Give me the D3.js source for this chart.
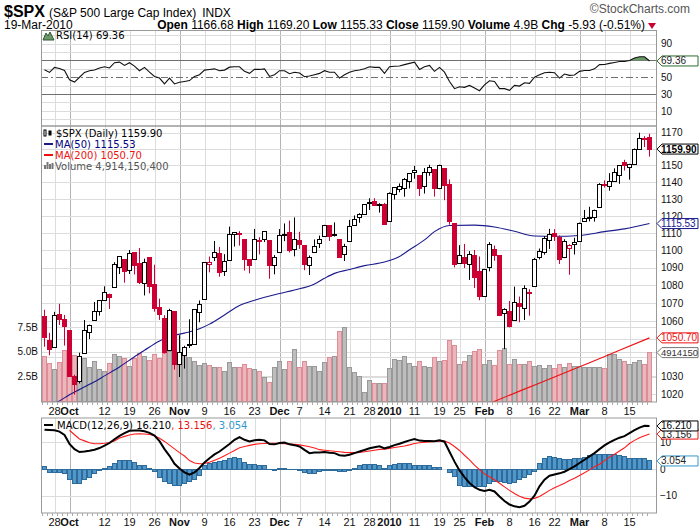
<!DOCTYPE html>
<html>
<head>
<meta charset="utf-8">
<title>$SPX daily</title>
<script src="https://cdn.jsdelivr.net/npm/d3@7"></script>
<style>
body { margin: 0; background: #fff; }
svg { display: block; font-family: "Liberation Sans", Arial, sans-serif; }
.legend { font-family: "DejaVu Sans", Verdana, sans-serif; font-size: 10px; }
</style>
</head>
<body>
<div id="chart"></div>
<script>

// trading days shown on the chart
var dates = [
"2009-09-24","2009-09-25","2009-09-28","2009-09-29","2009-09-30",
"2009-10-01","2009-10-02","2009-10-05","2009-10-06","2009-10-07","2009-10-08","2009-10-09","2009-10-12","2009-10-13","2009-10-14","2009-10-15","2009-10-16",
"2009-10-19","2009-10-20","2009-10-21","2009-10-22","2009-10-23","2009-10-26","2009-10-27","2009-10-28","2009-10-29","2009-10-30",
"2009-11-02","2009-11-03","2009-11-04","2009-11-05","2009-11-06","2009-11-09","2009-11-10","2009-11-11","2009-11-12","2009-11-13",
"2009-11-16","2009-11-17","2009-11-18","2009-11-19","2009-11-20","2009-11-23","2009-11-24","2009-11-25","2009-11-27","2009-11-30",
"2009-12-01","2009-12-02","2009-12-03","2009-12-04","2009-12-07","2009-12-08","2009-12-09","2009-12-10","2009-12-11",
"2009-12-14","2009-12-15","2009-12-16","2009-12-17","2009-12-18","2009-12-21","2009-12-22","2009-12-23","2009-12-24","2009-12-28","2009-12-29","2009-12-30","2009-12-31",
"2010-01-04","2010-01-05","2010-01-06","2010-01-07","2010-01-08","2010-01-11","2010-01-12","2010-01-13","2010-01-14","2010-01-15",
"2010-01-19","2010-01-20","2010-01-21","2010-01-22","2010-01-25","2010-01-26","2010-01-27","2010-01-28","2010-01-29",
"2010-02-01","2010-02-02","2010-02-03","2010-02-04","2010-02-05","2010-02-08","2010-02-09","2010-02-10","2010-02-11","2010-02-12",
"2010-02-16","2010-02-17","2010-02-18","2010-02-19","2010-02-22","2010-02-23","2010-02-24","2010-02-25","2010-02-26",
"2010-03-01","2010-03-02","2010-03-03","2010-03-04","2010-03-05","2010-03-08","2010-03-09","2010-03-10","2010-03-11","2010-03-12",
"2010-03-15","2010-03-16","2010-03-17","2010-03-18","2010-03-19"
];

var priorClose = 1060.87;

var opens = [
1062.56,1049.48,1045.38,1063.69,1061.02,1054.91,1029.71,1026.87,1042.02,1053.65,
1060.03,1065.28,1071.63,1074.96,1078.68,1090.36,1094.67,1088.22,1098.64,1092.44,
1080.96,1095.62,1080.36,1067.54,1061.51,1043.69,1065.41,1036.18,1040.92,1047.30,
1047.30,1064.95,1072.31,1091.86,1096.04,1098.31,1087.59,1094.13,1109.22,1109.44,
1106.44,1094.66,1094.86,1105.83,1106.49,1105.47,1091.07,1098.89,1109.03,1110.59,
1100.43,1105.52,1103.04,1091.07,1098.69,1103.96,1107.84,1114.11,1108.61,1106.36,
1097.86,1105.31,1114.51,1118.84,1121.08,1127.53,1128.55,1126.80,1126.60,1116.56,
1132.66,1135.71,1136.27,1140.52,1145.96,1143.81,1137.31,1145.68,1147.72,1136.03,
1147.95,1138.68,1115.49,1092.40,1095.80,1091.94,1096.93,1087.61,1073.89,1090.05,
1100.67,1097.25,1064.12,1065.51,1060.06,1069.68,1067.10,1075.95,1079.13,1096.14,
1099.03,1105.49,1110.00,1107.49,1095.89,1101.24,1103.10,1105.36,1117.01,1119.36,
1119.12,1125.12,1138.40,1137.56,1140.22,1143.96,1151.71,1148.53,1150.83,1159.94,
1166.13,1166.68
];

var highs = [
1066.29,1053.47,1065.13,1069.62,1063.40,1054.91,1030.60,1042.58,1060.55,1058.02,
1070.67,1071.51,1079.46,1075.30,1093.17,1096.56,1094.67,1100.17,1098.64,1101.36,
1095.21,1095.83,1091.75,1072.48,1063.26,1066.83,1065.41,1052.18,1046.36,1061.00,
1066.65,1071.48,1093.19,1096.42,1105.37,1101.97,1097.79,1113.69,1110.52,1111.10,
1106.44,1094.66,1112.38,1107.56,1111.18,1105.47,1097.24,1112.28,1115.58,1117.28,
1119.13,1110.72,1103.04,1097.04,1106.25,1108.50,1114.76,1114.11,1116.21,1106.36,
1103.74,1117.68,1120.27,1121.58,1126.48,1130.38,1130.38,1127.50,1127.64,1133.87,
1136.63,1139.19,1142.46,1145.39,1149.74,1143.81,1148.40,1150.41,1147.77,1150.45,
1147.95,1141.58,1115.49,1102.97,1103.69,1099.51,1100.22,1096.45,1089.38,1104.73,
1102.72,1097.25,1067.13,1071.20,1079.28,1073.67,1080.04,1077.81,1095.67,1101.03,
1108.24,1112.42,1112.29,1108.58,1106.42,1103.50,1107.24,1116.11,1123.46,1125.36,
1123.73,1139.38,1141.05,1145.37,1148.26,1150.24,1153.41,1150.98,1160.28,1169.84,
1167.77,1169.20
];

var lows = [
1045.85,1041.17,1045.38,1057.83,1046.47,1029.45,1019.95,1025.92,1042.02,1050.10,
1060.03,1063.00,1071.63,1066.71,1078.68,1086.41,1081.53,1086.48,1086.16,1080.77,
1074.31,1075.49,1065.23,1060.62,1042.19,1043.69,1033.38,1029.38,1033.94,1045.15,
1047.30,1059.32,1072.31,1087.40,1093.81,1084.90,1085.33,1094.13,1102.19,1102.70,
1088.40,1086.81,1094.86,1097.63,1104.75,1083.74,1086.25,1098.89,1105.29,1098.74,
1096.52,1100.83,1088.61,1085.89,1098.69,1101.34,1107.84,1105.35,1107.96,1095.88,
1093.88,1105.31,1114.51,1116.00,1121.08,1123.51,1126.08,1121.94,1114.81,1116.56,
1129.66,1133.95,1131.32,1136.22,1142.02,1131.77,1133.18,1143.80,1131.39,1135.77,
1129.25,1114.84,1090.18,1092.40,1089.86,1083.11,1078.46,1071.59,1073.89,1087.96,
1093.97,1062.78,1044.50,1056.51,1060.06,1059.34,1060.59,1062.97,1079.13,1094.72,
1097.48,1100.80,1105.38,1092.18,1095.50,1086.02,1097.56,1105.36,1116.51,1116.81,
1116.66,1125.12,1136.77,1134.90,1140.09,1138.99,1146.97,1141.45,1150.35,1159.94,
1161.16,1155.33
];

var closes = [
1050.78,1044.38,1062.98,1060.61,1057.08,1029.85,1025.21,1040.46,1054.72,1057.58,
1065.48,1071.49,1076.19,1073.19,1092.02,1096.56,1087.68,1097.91,1091.06,1081.40,
1092.91,1079.60,1066.95,1063.41,1042.63,1066.11,1036.19,1042.88,1045.41,1046.50,
1066.63,1069.30,1093.08,1093.01,1098.51,1087.24,1093.48,1109.30,1110.32,1109.80,
1094.90,1091.38,1106.24,1105.65,1110.63,1091.49,1095.63,1108.86,1109.24,1099.92,
1105.98,1103.25,1091.94,1095.95,1102.35,1106.41,1114.11,1107.93,1109.18,1096.08,
1102.47,1114.05,1118.02,1120.59,1126.48,1127.78,1126.20,1126.42,1115.10,1132.99,
1136.52,1137.14,1141.69,1144.98,1146.98,1136.22,1145.68,1148.46,1136.03,1150.23,
1138.04,1116.48,1091.76,1096.78,1092.17,1097.50,1084.53,1073.87,1089.19,1103.32,
1097.28,1063.11,1066.19,1056.74,1070.52,1068.13,1078.47,1075.51,1094.87,1099.51,
1106.75,1109.17,1108.01,1094.60,1105.24,1102.94,1104.49,1115.71,1118.31,1118.79,
1122.97,1138.70,1138.50,1140.45,1145.61,1150.24,1149.99,1150.51,1159.46,1166.21,
1165.83,1159.90
];

// volume in billions of shares
var volumes = [
4.5,3.8,3.2,3.9,5.1,5.5,4.6,4.4,4.3,3.4,
4.0,3.2,3.0,3.8,4.7,4.5,4.3,3.5,4.3,4.8,
4.5,4.1,4.7,4.3,4.8,5.0,5.1,4.8,4.8,4.4,
4.0,3.6,3.8,3.6,3.4,3.4,3.0,3.9,3.4,3.4,
3.7,3.3,3.2,3.0,2.4,1.9,3.4,4.0,3.2,4.0,
5.2,3.4,4.0,3.5,3.5,3.0,3.9,4.4,4.5,7.05,
7.45,3.44,2.93,2.53,0.93,2.13,1.83,1.83,1.83,3.27,
4.2,4.1,4.55,3.77,3.54,4.04,3.54,3.44,4.44,4.0,
4.1,6.15,5.6,3.7,4.0,4.67,5.04,5.24,3.67,4.14,
3.6,5.14,5.34,3.67,4.2,3.7,3.7,4.04,3.54,3.6,
3.27,3.6,3.34,3.67,3.44,3.84,3.54,3.54,3.37,3.37,
3.44,3.44,3.27,4.77,4.77,4.2,4.0,3.67,3.87,4.1,
3.67,4.914
];

var rsi = [
59,55.8,61.7,60.5,58,47,44.3,50,55.8,57.8,
58.6,61,62.5,61,67.3,68,64,67.3,63.3,57.8,
61.7,56,51,49,42,49,42,44,45,46,
51,53,58.5,59.3,60,57.8,58.5,62,62.5,62.5,
57,54.6,59.3,59.3,60,51,53,57.8,57.8,54.2,
56,55,50.6,51.4,53,54.6,57.8,56,56,49,
53,56,57.8,58.6,60,62.5,61.7,61.7,54.6,62.5,
63,63.3,65,66.5,68,59.3,62.5,64,57,61.7,
56,45,36.4,38.7,38,40.3,37.2,34,41,45.8,
45,36.4,36.4,34.4,40.3,39.5,43.5,42.7,50,53,
55.4,56,55.4,49,53.8,52.2,52.6,57,58,58,
60,65,65.2,66.5,67.6,68.8,68.8,70,72.8,74.4,
74.4,69.36
];

var macd = [
14.8,14.7,14.6,14.1,12.8,9.5,7.5,6.4,6.6,6.9,
7.3,7.9,8.8,9.8,11.2,12.5,13.5,14.4,14.5,14.5,
14.2,13.6,12.6,10.5,7.5,5.0,2.0,0.2,-1.2,-2.1,
-1.2,0.4,2.5,4.1,5.5,6.6,8.0,9.4,11.0,12.0,
11.0,10.4,10.8,11.0,10.8,9.4,9.3,9.8,10.0,9.3,
9.0,8.5,7.2,6.0,6.2,6.2,6.4,6.1,6.0,5.2,
5.0,5.4,6.0,6.6,7.2,7.8,8.2,8.6,7.8,8.3,
9.0,9.5,10.2,10.8,11.3,10.7,10.6,10.6,10.5,10.8,
10.3,6.5,2.8,-0.5,-3.0,-5.2,-6.8,-7.8,-8.2,-7.8,
-8.4,-10.3,-12.0,-13.3,-14.0,-14.3,-13.8,-12.2,-10.0,-6.5,
-4.0,-2.5,-2.0,-1.6,-1.0,0.0,1.0,2.3,3.5,4.8,
6.0,7.5,8.9,10.0,11.0,11.8,12.4,13.5,14.6,15.6,
16.3,16.21
];

var signal = [
null,null,null,null,null,14.6,12.9,11.3,10.6,9.9,
9.5,9.5,9.7,10.0,10.6,11.7,12.3,12.8,13.2,13.3,
13.2,13.0,12.5,11.6,10.4,9.0,7.6,6.2,4.9,3.2,
2.3,2.0,2.1,2.6,3.3,4.1,5.0,6.0,7.0,8.0,
8.5,8.9,9.3,9.5,9.6,9.7,9.7,9.6,9.5,9.4,
9.3,9.1,8.8,8.4,7.9,7.3,7.1,6.9,6.7,6.5,
6.3,6.2,6.2,6.3,6.5,6.8,7.1,7.4,7.5,7.8,
8.1,8.4,8.7,9.1,9.6,9.9,10.1,10.2,10.4,10.5,
10.5,9.8,8.5,7.0,5.2,3.5,1.5,-0.2,-1.8,-2.9,
-4.0,-5.3,-6.7,-8.0,-9.2,-10.2,-10.9,-11.2,-11.0,-10.3,
-9.2,-8.0,-7.0,-6.2,-5.3,-4.3,-3.4,-2.4,-1.4,-0.3,
0.9,1.8,3.2,4.5,5.6,6.8,8.0,9.6,10.8,11.8,
12.5,13.156
];

var hist = [
0.8,-1.3,-1.3,-1.3,-1.8,-4.0,-5.3,-5.3,-4.0,-3.0,
-1.8,-0.6,0.4,1.0,2.2,3.1,3.1,3.1,2.5,1.2,
1.2,0.4,-0.9,-3.0,-4.6,-5.3,-6.3,-6.0,-5.6,-4.6,
-4.0,-2.5,1.2,2.2,2.6,2.7,3.4,4.1,4.4,3.9,
2.6,1.8,1.8,1.5,1.3,-0.1,-0.6,0.1,0.2,-0.2,
-0.3,-0.5,-1.4,-1.8,-1.5,-1.0,-0.7,-0.6,-0.6,-0.9,
-0.9,-0.4,0.2,1.2,1.6,1.8,1.8,1.2,0.3,1.4,
1.6,2.0,2.1,2.1,1.4,1.4,1.4,1.4,0.5,0.5,
0.0,-1.2,-2.7,-6.2,-6.4,-6.4,-6.6,-6.6,-6.7,-5.4,
-4.5,-4.5,-4.9,-5.4,-5.2,-4.0,-3.0,-2.1,-0.9,2.2,
4.1,4.7,4.5,4.1,3.7,3.7,4.1,4.1,4.5,5.1,
5.5,5.5,5.5,5.5,5.5,5.1,4.7,4.1,4.1,4.1,
4.1,3.054
];

// moving averages at selected days
var ma50Dates = ["2009-09-24","2009-09-29","2009-10-01","2009-10-05","2009-10-08","2009-10-12","2009-10-15","2009-10-20","2009-10-22","2009-10-27",
"2009-10-29","2009-11-03","2009-11-06","2009-11-10","2009-11-13","2009-11-18","2009-11-23","2009-12-01","2009-12-04","2009-12-10",
"2009-12-14","2009-12-16","2009-12-21","2009-12-24","2009-12-31","2010-01-06","2010-01-08","2010-01-13","2010-01-15","2010-01-21",
"2010-01-28","2010-02-03","2010-02-09","2010-02-16","2010-02-22","2010-03-01","2010-03-08","2010-03-12","2010-03-19"];
var ma50Values = [1013.0,1016.6,1019.9,1022.7,1026.8,1030.0,1034.8,1040.4,1043.9,1049.0,
1051.5,1053.3,1055.7,1058.3,1063.4,1068.6,1071.6,1075.4,1077.4,1080.8,
1084.0,1086.8,1089.0,1091.2,1093.3,1096.4,1100.3,1106.0,1110.8,1114.4,
1114.6,1113.5,1111.0,1108.3,1108.1,1108.6,1110.8,1112.4,1115.53];

var ma200Dates = ["2010-02-01","2010-02-10","2010-02-22","2010-03-03","2010-03-11","2010-03-19"];
var ma200Values = [1014.2,1021.8,1029.4,1037.1,1043.9,1050.70];

// axis labels
var tickDates = ["2009-09-28","2009-10-01","2009-10-12","2009-10-19","2009-10-26","2009-11-02","2009-11-09","2009-11-16","2009-11-23",
"2009-12-01","2009-12-07","2009-12-14","2009-12-21","2009-12-28","2010-01-04","2010-01-11","2010-01-19","2010-01-25",
"2010-02-01","2010-02-08","2010-02-16","2010-02-22","2010-03-01","2010-03-08","2010-03-15"];
var tickLabels = ["28","Oct","12","19","26","Nov","9","16","23","Dec","7","14","21","28","2010","11","19","25","Feb","8","16","22","Mar","8","15"];
var priceTicks = d3.range(1020, 1171, 10);
var volTicks = [2.5, 5.0, 7.5];
var rsiLabels = [90, 50, 30, 10];
var macdTicks = [-10, 0, 10];

var W = 700, H = 530;
var L = 41, R = 656;
var rsiTop = 30.5, rsiBot = 126, mainTop = 126, mainBot = 402, macdTop = 418, macdBot = 513;
var red = "#cc0033", navy = "#1a1a8c", macdBlue = "#4f98c9";

var svg = d3.select("#chart").append("svg").attr("width", W).attr("height", H);

var x = d3.scaleBand().domain(dates).range([42, 652]).padding(0);
function cx(d) { return x(d) + x.bandwidth() / 2; }

var yPrice = d3.scaleLog().domain([1016, 1174]).range([mainBot, mainTop]);
var yVol = d3.scaleLinear().domain([0, 10]).range([401.5, 302]);
var yRsi = d3.scaleLinear().domain([-8, 105.6]).range([rsiBot, rsiTop]);
var yMacd = d3.scaleLinear().domain([-16.5, 19.2]).range([macdBot, macdTop]);

var bars = dates.map(function (d, i) {
	var prev = i == 0 ? priorClose : closes[i - 1];
	return { date: d, o: opens[i], h: highs[i], l: lows[i], c: closes[i], v: volumes[i],
		up: closes[i] >= prev, rsi: rsi[i], macd: macd[i], sig: signal[i], hist: hist[i] };
});
var last = bars[bars.length - 1];

function isMonth(lbl) { return isNaN(+lbl) || lbl.length == 4; }

// ---- panel grids
function vGrid(top, bot) {
	svg.append("g").selectAll("line").data(tickDates).enter().append("line")
	.attr("x1", function (d) { return Math.round(cx(d)) + 0.5; })
	.attr("x2", function (d) { return Math.round(cx(d)) + 0.5; })
	.attr("y1", top).attr("y2", bot)
	.attr("stroke", function (d, i) { return isMonth(tickLabels[i]) ? "#b4b4b4" : "#dcdcdc"; });
}
function hGrid(vals, scale, color) {
	svg.append("g").selectAll("line").data(vals).enter().append("line")
	.attr("x1", L).attr("x2", R)
	.attr("y1", function (d) { return Math.round(scale(d)) + 0.5; })
	.attr("y2", function (d) { return Math.round(scale(d)) + 0.5; })
	.attr("stroke", color || "#dcdcdc");
}

vGrid(rsiTop, rsiBot);
vGrid(mainTop, mainBot);
vGrid(macdTop, macdBot);

hGrid([0, 10, 20, 40, 60, 80, 90, 100], yRsi);
hGrid(priceTicks, yPrice);
hGrid(volTicks, yVol);
hGrid(macdTicks, yMacd);

// RSI reference lines
hGrid([30, 70], yRsi, "#707070");
svg.append("line").attr("x1", L).attr("x2", R)
.attr("y1", Math.round(yRsi(50)) + 0.5).attr("y2", Math.round(yRsi(50)) + 0.5)
.attr("stroke", "#707070").attr("stroke-dasharray", "7,3,2,3");

// ---- RSI
var rsiArea = d3.area()
.x(function (d) { return cx(d.date); })
.y0(yRsi(70))
.y1(function (d) { return yRsi(Math.max(d.rsi, 70)); });
svg.append("path").datum(bars).attr("d", rsiArea).attr("fill", "#6a986a");

var rsiLine = d3.line().x(function (d) { return cx(d.date); }).y(function (d) { return yRsi(d.rsi); });
svg.append("path").datum(bars).attr("d", rsiLine).attr("fill", "none").attr("stroke", "#111").attr("stroke-width", 1.1);

// ---- main panel: volume
svg.append("defs").append("clipPath").attr("id", "mainClip")
.append("rect").attr("x", L).attr("y", mainTop).attr("width", R - L).attr("height", mainBot - mainTop);

svg.append("g").selectAll("rect").data(bars).enter().append("rect")
.attr("x", function (d) { return x(d.date) + 0.5; })
.attr("width", x.bandwidth() - 1)
.attr("y", function (d) { return yVol(d.v); })
.attr("height", function (d) { return yVol(0) - yVol(d.v); })
.attr("fill", function (d) { return d.up ? "#bdbdbd" : "#e9b7bc"; })
.attr("stroke", function (d) { return d.up ? "#999" : "#e08c96"; })
.attr("shape-rendering", "crispEdges");

// moving averages
var maLine = d3.line().curve(d3.curveMonotoneX)
.x(function (d) { return cx(d[0]); }).y(function (d) { return yPrice(d[1]); });
svg.append("path").datum(d3.zip(ma50Dates, ma50Values)).attr("d", maLine)
.attr("clip-path", "url(#mainClip)").attr("fill", "none").attr("stroke", navy).attr("stroke-width", 1.1);
svg.append("path").datum(d3.zip(ma200Dates, ma200Values)).attr("d", maLine)
.attr("clip-path", "url(#mainClip)").attr("fill", "none").attr("stroke", "#ee1111").attr("stroke-width", 1.1);

// candles
var candles = svg.append("g").attr("clip-path", "url(#mainClip)").selectAll("g").data(bars).enter().append("g");
candles.append("line")
.attr("x1", function (d) { return cx(d.date); }).attr("x2", function (d) { return cx(d.date); })
.attr("y1", function (d) { return yPrice(d.h); }).attr("y2", function (d) { return yPrice(d.l); })
.attr("stroke", function (d) { return d.up ? "#000" : red; });
candles.append("rect")
.attr("x", function (d) { return cx(d.date) - 2; })
.attr("width", 4)
.attr("y", function (d) { return yPrice(Math.max(d.o, d.c)); })
.attr("height", function (d) { return Math.max(1, yPrice(Math.min(d.o, d.c)) - yPrice(Math.max(d.o, d.c))); })
.attr("fill", function (d) { return d.c >= d.o ? "#fff" : (d.up ? "#000" : red); })
.attr("stroke", function (d) { return d.up ? "#000" : red; })
.attr("shape-rendering", "crispEdges");

// ---- MACD panel
svg.append("g").selectAll("rect").data(bars).enter().append("rect")
.attr("x", function (d) { return x(d.date) + 0.5; })
.attr("width", x.bandwidth() - 1)
.attr("y", function (d) { return yMacd(Math.max(0, d.hist)); })
.attr("height", function (d) { return Math.abs(yMacd(d.hist) - yMacd(0)); })
.attr("fill", macdBlue).attr("stroke", "#2f6b9a")
.attr("shape-rendering", "crispEdges");

var sigLine = d3.line().defined(function (d) { return d.sig != null; })
.x(function (d) { return cx(d.date); }).y(function (d) { return yMacd(d.sig); });
svg.append("path").datum(bars).attr("d", sigLine).attr("fill", "none").attr("stroke", "#ff1a1a").attr("stroke-width", 1.1);
var macdLine = d3.line().x(function (d) { return cx(d.date); }).y(function (d) { return yMacd(d.macd); });
svg.append("path").datum(bars).attr("d", macdLine).attr("fill", "none").attr("stroke", "#000").attr("stroke-width", 2);

// ---- panel borders and small day ticks
[[rsiTop, rsiBot], [mainTop, mainBot], [macdTop, macdBot]].forEach(function (p) {
	svg.append("rect").attr("x", L + 0.5).attr("y", p[0]).attr("width", R - L).attr("height", p[1] - p[0])
	.attr("fill", "none").attr("stroke", "#999");
});
[mainBot, macdBot].forEach(function (yb) {
	svg.append("g").selectAll("line").data(dates).enter().append("line")
	.attr("x1", function (d) { return x(d) + 0.5; }).attr("x2", function (d) { return x(d) + 0.5; })
	.attr("y1", yb).attr("y2", yb + 3).attr("stroke", "#aaa");
});

// ---- axes (price labels that sit under a value tag are left out, as on the original)
var priceTags = [last.c, ma50Values[ma50Values.length - 1], ma200Values[ma200Values.length - 1]];
var volTagY = yVol(last.v);
var shownPriceTicks = priceTicks.filter(function (p) {
	var yp = yPrice(p);
	var hidden = priceTags.some(function (t) { return Math.abs(yPrice(t) - yp) < 7; });
	return !hidden && Math.abs(volTagY - yp) >= 7;
});

function styleAxis(g, size) {
	g.select(".domain").remove();
	g.attr("font-family", "Liberation Sans, Arial, sans-serif").attr("font-size", size || 10);
	g.selectAll("text").attr("fill", "#111");
}
svg.append("g").attr("transform", "translate(" + R + ",0)")
.call(d3.axisRight(yPrice).tickValues(shownPriceTicks).tickFormat(d3.format("d")).tickSize(0).tickPadding(5))
.call(styleAxis);
svg.append("g").attr("transform", "translate(" + R + ",0)")
.call(d3.axisRight(yRsi).tickValues(rsiLabels).tickSize(0).tickPadding(5))
.call(styleAxis);
svg.append("g").attr("transform", "translate(" + R + ",0)")
.call(d3.axisRight(yMacd).tickValues(macdTicks).tickSize(0).tickPadding(4))
.call(styleAxis);
svg.append("g").attr("transform", "translate(" + (L - 2) + ",0)")
.call(d3.axisLeft(yVol).tickValues(volTicks).tickFormat(function (d) { return d.toFixed(1) + "B"; }).tickSize(0).tickPadding(1))
.call(styleAxis);

[mainBot + 1, macdBot + 1].forEach(function (yb) {
	var g = svg.append("g").attr("transform", "translate(0," + yb + ")")
	.call(d3.axisBottom(x).tickValues(tickDates).tickFormat(function (d, i) { return tickLabels[i]; }).tickSize(0).tickPadding(4))
	.call(styleAxis, 11);
	g.selectAll("text").attr("font-weight", function (d, i) { return isMonth(tickLabels[i]) ? "bold" : "normal"; });
});

// ---- value tags on the right
function tag(y, text, color, textColor, bold, size) {
	var g = svg.append("g");
	g.append("path")
	.attr("d", "M" + (R + 1) + "," + y + " L" + (R + 6) + "," + (y - 5) + " L698," + (y - 5) + " L698," + (y + 5) + " L" + (R + 6) + "," + (y + 5) + " Z")
	.attr("fill", "#fff").attr("stroke", color);
	g.append("text").attr("x", R + 5).attr("y", y + 3.5).text(text)
	.attr("font-size", size || 10).attr("fill", textColor || color).attr("font-weight", bold ? "bold" : "normal");
}
tag(yRsi(last.rsi), "69.36", "#2d6e2d", "#222");
tag(yPrice(last.c), "1159.90", "#000", "#000", true);
tag(yPrice(ma50Values[ma50Values.length - 1]), "1115.53", navy);
tag(yPrice(ma200Values[ma200Values.length - 1]), "1050.70", "#ee1111");
tag(volTagY, "4914150", "#777", "#333", false, 9.5);
tag(yMacd(last.hist), "3.054", "#3399cc", "#222");
tag(yMacd(last.sig), "13.156", "#ee1111", "#222");
tag(yMacd(last.macd), "16.210", "#000", "#000");

// ---- legends inside panels
var rsiLeg = svg.append("g").attr("class", "legend");
rsiLeg.append("path").attr("d", "M43,40 L46,33 L48,36 L50,32 L54,40 Z").attr("fill", "#6a986a").attr("stroke", "#335533");
rsiLeg.append("text").attr("x", 56).attr("y", 39).text("RSI(14) 69.36");

var mainLeg = svg.append("g").attr("class", "legend");
mainLeg.append("rect").attr("x", 44).attr("y", 130).attr("width", 2).attr("height", 6).attr("fill", "#fff").attr("stroke", "#000");
mainLeg.append("rect").attr("x", 49).attr("y", 131).attr("width", 2).attr("height", 4).attr("fill", "#000").attr("stroke", "#000");
mainLeg.append("text").attr("x", 56).attr("y", 137).text("$SPX (Daily) 1159.90").attr("fill", "#000");
mainLeg.append("rect").attr("x", 44).attr("y", 143).attr("width", 9).attr("height", 2).attr("fill", navy);
mainLeg.append("text").attr("x", 55).attr("y", 148).text("MA(50) 1115.53").attr("fill", "#000080");
mainLeg.append("rect").attr("x", 44).attr("y", 154).attr("width", 9).attr("height", 2).attr("fill", "#ee1111");
mainLeg.append("text").attr("x", 55).attr("y", 159).text("MA(200) 1050.70").attr("fill", "#ee1111");
[[44, 4], [46.5, 7], [49, 5], [51.5, 6]].forEach(function (b) {
	mainLeg.append("rect").attr("x", b[0]).attr("y", 169 - b[1]).attr("width", 2).attr("height", b[1]).attr("fill", "#777");
});
mainLeg.append("text").attr("x", 55).attr("y", 169.5).text("Volume 4,914,150,400").attr("fill", "#555");

var macdLeg = svg.append("g").attr("class", "legend");
macdLeg.append("rect").attr("x", 44).attr("y", 424).attr("width", 9).attr("height", 2).attr("fill", "#000");
var mt = macdLeg.append("text").attr("x", 57).attr("y", 429);
mt.append("tspan").text("MACD(12,26,9) 16.210").attr("fill", "#000");
mt.append("tspan").text(", 13.156").attr("fill", "#ee1111");
mt.append("tspan").text(", 3.054").attr("fill", "#3399cc");

// ---- header
var title = svg.append("text").attr("x", 4).attr("y", 17).attr("fill", "#000");
title.append("tspan").text("$SPX").attr("font-size", 16).attr("font-weight", "bold");
title.append("tspan").text("(S&P 500 Large Cap Index)").attr("font-size", 12).attr("dx", 4);
title.append("tspan").text("INDX").attr("font-size", 12).attr("dx", 6);

svg.append("text").attr("x", 690).attr("y", 13).attr("text-anchor", "end")
.attr("font-size", 12).attr("fill", "#555").text("\u00A9StockCharts.com");

svg.append("text").attr("x", 4).attr("y", 29).attr("font-size", 12).text("19-Mar-2010");

var quote = [["Open", "1166.68"], ["High", "1169.20"], ["Low", "1155.33"], ["Close", "1159.90"], ["Volume", "4.9B"], ["Chg", "-5.93 (-0.51%)"]];
var qt = svg.append("text").attr("x", 645).attr("y", 29).attr("text-anchor", "end").attr("font-size", 12);
quote.forEach(function (q, i) {
	qt.append("tspan").text((i ? " " : "") + q[0]).attr("font-weight", "bold");
	qt.append("tspan").text(" " + q[1]);
});
svg.append("path").attr("d", "M648,23 L656,23 L652,29 Z").attr("fill", red);

</script>
</body>
</html>
